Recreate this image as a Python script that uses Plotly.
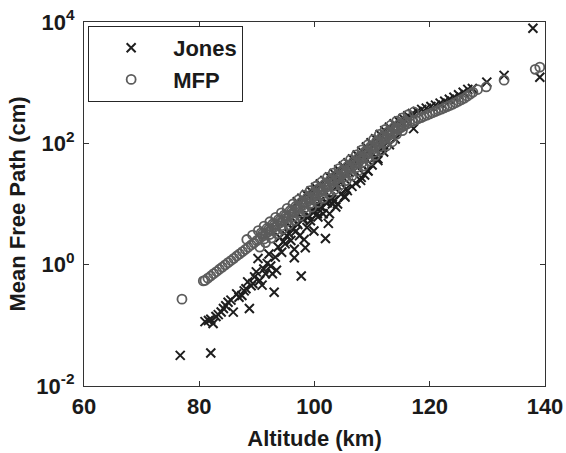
import plotly.graph_objects as go

# ----- altitude (km) and mean free path (cm) -----
# Jones estimate
jones_alt = [76.7, 82.0, 81.0, 81.6, 82.0, 82.4, 82.9, 83.3, 83.8, 84.2,
             84.6, 85.0, 85.5, 85.9, 86.5, 86.9, 87.4, 87.8, 88.1, 88.4,
             88.7, 89.0, 89.3, 89.6, 89.9, 90.2, 90.5, 90.9, 91.2, 91.5,
             91.8, 92.1, 92.4, 92.7, 93.0, 93.2, 93.4, 93.7, 94.0, 94.3,
             94.6, 94.9, 95.2, 95.6, 95.9, 96.2, 96.5, 96.5, 96.8, 97.1,
             97.4, 97.7, 98.0, 98.2, 98.4, 98.7, 99.0, 99.3, 99.6, 99.9,
             100.2, 100.6, 100.9, 101.2, 101.5, 101.9, 102.2, 102.4, 102.6, 102.8,
             103.1, 103.4, 103.7, 104.0, 104.5, 105.0, 105.3, 105.5, 106.0, 106.5,
             107.0, 107.5, 108.1, 108.5, 109.3, 109.5, 110.2, 110.6, 111.0, 111.8,
             117.2,
             # just under the band
             96.0, 97.0, 98.0, 99.0, 100.0, 100.5, 101.0, 102.0, 103.0, 104.0,
             104.6, 105.2, 105.7, 106.5, 107.2, 108.0, 108.7, 109.2, 110.0, 111.0,
             112.0, 113.0, 114.0,
             # upper edge of the band
             97.0, 97.8, 98.6, 99.4, 100.2, 101.0, 101.8, 102.6, 103.4, 104.2,
             105.0, 105.8, 106.6, 107.4, 108.2, 109.0, 109.8, 110.6, 111.4, 112.2,
             113.0, 113.8, 114.6, 115.4, 116.2, 117.0, 117.8, 118.6, 119.4, 120.2,
             121.0, 121.8, 122.6, 123.4, 124.2, 125.0, 125.8, 126.6, 127.4, 129.9,
             132.9, 137.9, 139.1]
jones_cm = [0.032, 0.035, 0.115, 0.12, 0.126, 0.107, 0.14, 0.15, 0.166, 0.19,
            0.21, 0.24, 0.26, 0.165, 0.33, 0.29, 0.31, 0.37, 0.40, 0.52,
            0.19, 0.45, 0.49, 0.63, 0.76, 1.26, 0.55, 0.46, 0.85, 0.71,
            1.05, 1.5, 0.95, 0.71, 0.35, 1.33, 0.81, 1.95, 2.8, 1.6,
            2.4, 2.2, 3.0, 3.2, 2.5, 4.0, 1.3, 1.8, 3.6, 4.6,
            3.0, 0.65, 5.5, 2.6, 1.9, 4.1, 6.5, 5.3, 7.5, 3.6,
            9.0, 6.1, 11.0, 9.0, 6.9, 2.7, 10.5, 4.8, 6.9, 13.0,
            10.0, 11.5, 8.9, 20.0, 23.0, 27.0, 13.0, 17.8, 33.0, 38.0,
            44.0, 50.0, 27.5, 62.0, 35.0, 78.0, 92.0, 59.0, 52.0, 85.0,
            175,
            4.0, 4.8, 5.8, 6.2, 7.5, 6.9, 9.0, 10.5, 12.0, 10.0,
            14.5, 13.5, 16.6, 19.5, 22.0, 24.5, 30.0, 35.5, 44.0, 56.0,
            72.0, 95.0, 118,
            10.9, 12.5, 14.3, 16.4, 18.7, 21.4, 24.5, 28.0, 32.0, 36.6,
            41.9, 48.0, 55.4, 64.2, 74.5, 87.1, 102, 119, 140, 162,
            185, 210, 233, 258, 284, 310, 336, 363, 380, 405,
            427, 460, 495, 533, 576, 632, 693, 775, 800, 1020,
            1320, 7900, 1230]

# MFP calculation
mfp_alt = [77.0, 80.7, 81.0, 81.5, 82.0, 82.5, 83.0, 83.5, 84.0, 84.5,
           85.0, 85.5, 86.0, 86.5, 87.0, 87.5, 88.0, 88.5, 89.0, 89.5,
           90.0, 90.5, 91.0, 91.5, 92.0, 92.5, 93.0, 93.5, 94.0, 94.5,
           95.0, 95.5, 96.0, 96.5, 97.0, 97.5, 98.0, 98.5, 99.0, 99.5,
           100.0, 100.5, 101.0, 101.5, 102.0, 102.5, 103.0, 103.5, 104.0, 104.5,
           105.0, 105.5, 106.0, 106.5, 107.0, 107.5, 108.0, 108.5, 109.0, 109.5,
           110.0, 110.5, 111.0, 111.5, 112.0, 112.5, 113.0, 113.5, 114.0, 114.5,
           115.0, 115.5, 116.0, 116.5, 117.0, 117.5, 118.0, 118.5, 119.0, 119.5,
           120.0, 120.5, 121.0, 121.5, 122.0, 122.5, 123.0, 123.5, 124.0, 124.5,
           125.0, 125.5, 126.0, 126.5, 127.0, 127.5, 128.3, 129.8, 132.9, 138.3,
           139.1,
           # upper part of the band
           88.25, 89.25, 90.25, 91.25, 92.25, 93.25, 94.25, 95.25, 96.25, 97.25,
           98.25, 99.25, 100.25, 101.25, 102.25, 103.25, 104.25, 105.25, 106.25, 107.25,
           108.25, 109.25, 110.25, 111.25, 112.25, 113.25, 114.25, 115.25, 116.25, 117.25,
           90.75, 91.75, 92.75, 93.75, 94.75, 95.75, 96.75, 97.75, 98.75, 99.75,
           100.75, 101.75, 102.75, 103.75, 104.75, 105.75, 106.75, 107.75, 108.75, 109.75,
           110.75, 111.75, 112.75, 113.75, 114.75, 115.75,
           91.0, 92.0, 93.0, 94.0, 95.0, 96.0, 97.0, 98.0, 99.0, 100.0,
           101.0, 102.0, 103.0, 104.0, 105.0, 106.0, 107.0, 108.0, 109.0, 110.0,
           111.0, 112.0, 113.0, 114.0, 115.0, 116.0,
           # lower part of the band
           91.25, 92.25, 93.25, 94.25, 95.25, 96.25, 97.25, 98.25, 99.25, 100.25,
           101.25, 102.25, 103.25, 104.25, 105.25, 106.25, 107.25, 108.25, 109.25, 110.25,
           111.25, 112.25, 113.25, 114.25, 115.25,
           90.5, 91.5, 92.5, 93.5, 94.5, 95.5, 96.5, 97.5, 98.5, 99.5,
           100.5, 101.5, 102.5, 103.5, 104.5, 105.5, 106.5, 107.5, 108.5, 109.5,
           110.5, 111.5, 112.5, 113.5]
mfp_cm = [0.27, 0.54, 0.55, 0.60, 0.65, 0.71, 0.77, 0.84, 0.91, 0.99,
          1.08, 1.17, 1.27, 1.39, 1.51, 1.64, 1.78, 1.94, 2.11, 2.29,
          2.49, 2.72, 2.95, 3.21, 3.49, 3.80, 4.13, 4.50, 4.89, 5.32,
          5.78, 6.29, 6.84, 7.44, 8.09, 8.81, 9.57, 10.4, 11.3, 12.3,
          13.4, 14.6, 15.8, 17.3, 18.7, 20.4, 22.2, 24.2, 26.2, 28.6,
          31.0, 33.8, 36.7, 40.3, 44.2, 48.4, 53.1, 58.6, 64.6, 71.3,
          78.5, 86.7, 95.5, 105, 116, 126, 136, 148, 160, 171,
          182, 194, 207, 218, 229, 241, 254, 266, 279, 292,
          305, 320, 335, 351, 367, 385, 403, 422, 442, 468,
          495, 525, 556, 599, 646, 695, 770, 850, 1100, 1660,
          1800,
          2.60, 3.08, 3.64, 4.31, 5.10, 6.04, 7.14, 8.45, 10.0, 11.8,
          14.0, 16.6, 19.6, 23.2, 27.4, 32.4, 38.4, 45.4, 53.8, 64.7,
          78.0, 94.8, 115, 140, 169, 199, 232, 263, 296, 329,
          3.34, 3.95, 4.68, 5.53, 6.55, 7.74, 9.16, 10.8, 12.8, 15.2,
          17.9, 21.2, 25.1, 29.7, 35.2, 41.6, 49.8, 59.8, 72.6, 88.3,
          107, 131, 155, 182, 208, 236,
          3.22, 3.80, 4.50, 5.33, 6.30, 7.46, 8.82, 10.4, 12.3, 14.6,
          17.2, 20.4, 24.2, 28.6, 33.8, 40.0, 48.2, 57.9, 70.4, 85.6,
          104, 126, 148, 174, 198, 226,
          2.65, 3.14, 3.71, 4.39, 5.19, 6.14, 7.27, 8.60, 10.2, 12.0,
          14.2, 16.9, 19.9, 23.6, 27.9, 33.1, 39.8, 47.9, 58.3, 70.9,
          86.2, 104, 122, 142, 162,
          1.95, 2.31, 2.74, 3.24, 3.83, 4.53, 5.36, 6.34, 7.50, 8.87,
          10.5, 12.4, 14.7, 17.4, 20.6, 24.3, 29.0, 34.8, 42.2, 51.3,
          62.4, 75.9, 90.6, 106]

x_ticks = [60, 80, 100, 120, 140]
y_ticks = [1e-2, 1e0, 1e2, 1e4]
y_ticktext = ['10<sup>-2</sup>', '10<sup>0</sup>', '10<sup>2</sup>', '10<sup>4</sup>']

fnt = dict(family='Liberation Sans, Arial, sans-serif', color='#1a1a1a', weight='bold')

# --- Jones first, MFP drawn on top
trace0 = go.Scatter(
    x=jones_alt, y=jones_cm, mode='markers', name='Jones',
    marker=dict(symbol='x-thin', size=9, line=dict(width=2, color='#1e1e1e'))
)
trace1 = go.Scatter(
    x=mfp_alt, y=mfp_cm, mode='markers', name='MFP',
    marker=dict(symbol='circle-open', size=9, color='#5c5c5c', line=dict(width=1.8))
)

fig = go.Figure([trace0, trace1])

fig.update_layout(
    width=566, height=453,
    margin=dict(l=84, r=21, t=22, b=67),
    paper_bgcolor='white', plot_bgcolor='white',
    font=dict(size=22, **fnt),
    showlegend=True,
    legend=dict(x=0.009, y=0.989, xanchor='left', yanchor='top',
                bordercolor='#262626', borderwidth=1, bgcolor='white',
                font=dict(size=22, **fnt), itemwidth=74, tracegroupgap=0),
)
fig.update_xaxes(
    range=[60, 140], tickvals=x_ticks, ticks='inside', ticklen=5,
    showline=True, linecolor='#333333', linewidth=1.3, mirror='ticks',
    tickcolor='#333333', showgrid=False, zeroline=False, automargin=False,
    ticklabeloverflow='allow',
    title=dict(text='Altitude (km)', font=dict(size=22, **fnt), standoff=13),
    tickfont=dict(size=22, **fnt)
)
fig.update_yaxes(
    type='log', range=[-2, 4], tickvals=y_ticks, ticktext=y_ticktext,
    ticks='inside', ticklen=5, showline=True, linecolor='#333333', linewidth=1.3,
    mirror='ticks', tickcolor='#333333', showgrid=False, zeroline=False, automargin=False,
    ticklabelstandoff=4, ticklabeloverflow='allow',
    title=dict(text='Mean Free Path (cm)', font=dict(size=22, **fnt), standoff=4),
    tickfont=dict(size=22, **fnt)
)

# --- drop the page's default body margin so the chart sits at the window corner
fig.write_html("out.html", config={'displayModeBar': False},
               post_script="document.body.style.margin='0';")
